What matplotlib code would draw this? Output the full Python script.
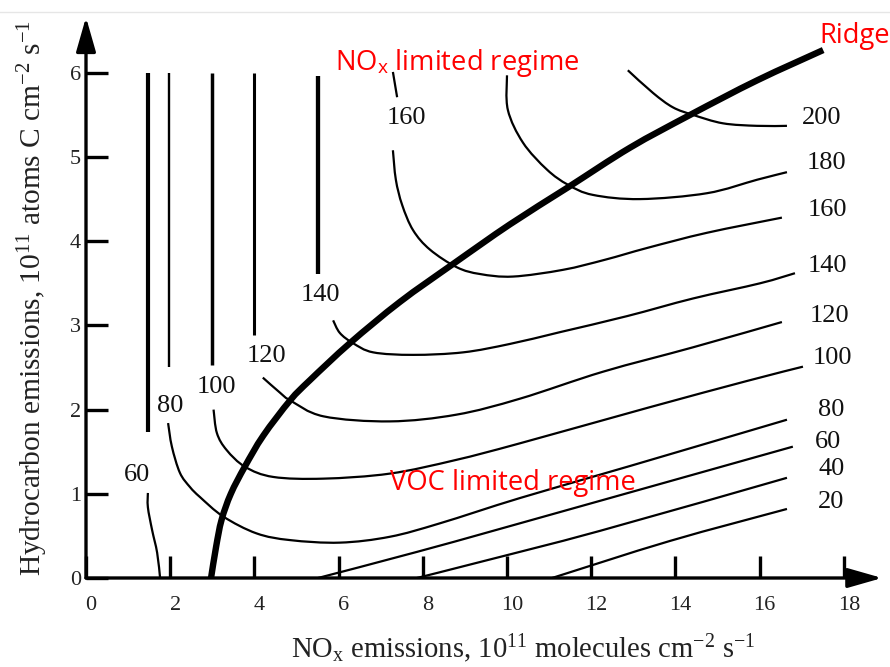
import matplotlib
matplotlib.use("Agg")
import matplotlib.pyplot as plt
from matplotlib.lines import Line2D
from matplotlib.path import Path
from matplotlib.patches import PathPatch
from matplotlib.transforms import ScaledTranslation

plt.rcParams["font.family"] = "Liberation Serif"
plt.rcParams["mathtext.fontset"] = "custom"
plt.rcParams["mathtext.rm"] = "Liberation Serif"
plt.rcParams["mathtext.it"] = "Liberation Serif:italic"

# ozone isopleths (ppb), x = NOx emissions, y = hydrocarbon emissions
ridge_x = [2.97, 3.09, 3.22, 3.44, 3.77, 4.21, 4.85, 5.32, 6.27, 7.46, 8.72, 10.07, 11.45, 12.92, 14.35, 15.94, 17.51]
ridge_y = [0.0, 0.37, 0.69, 1.00, 1.32, 1.69, 2.11, 2.35, 2.79, 3.28, 3.73, 4.20, 4.64, 5.11, 5.50, 5.91, 6.27]

o3_200_x = [12.87, 13.47, 13.94, 14.42, 15.13, 15.94, 16.65]
o3_200_y = [6.03, 5.76, 5.59, 5.50, 5.40, 5.37, 5.37]

o3_180_x = [10.00, 10.02, 10.38, 10.95, 11.45, 12.04, 13.16, 14.75, 15.94, 16.65]
o3_180_y = [5.97, 5.56, 5.17, 4.85, 4.67, 4.55, 4.50, 4.57, 4.73, 4.82]

o3_160_x = [7.29, 7.36, 7.51, 7.77, 8.17, 8.81, 9.36, 10.14, 11.33, 12.33, 13.33, 14.75, 16.53]
o3_160_y = [5.08, 4.73, 4.43, 4.13, 3.90, 3.69, 3.61, 3.58, 3.66, 3.78, 3.92, 4.10, 4.28]
o3_160_top_x = [7.29, 7.39]
o3_160_top_y = [6.01, 5.71]

o3_140_x = [5.87, 6.03, 6.34, 6.82, 7.77, 8.96, 10.07, 11.26, 12.85, 14.42, 16.01, 16.84]
o3_140_y = [3.06, 2.91, 2.79, 2.68, 2.65, 2.68, 2.78, 2.92, 3.11, 3.32, 3.50, 3.62]

o3_120_x = [4.20, 4.61, 4.85, 5.64, 7.22, 8.80, 10.31, 12.28, 14.42, 16.53]
o3_120_y = [2.38, 2.20, 2.11, 1.92, 1.86, 1.94, 2.13, 2.45, 2.74, 3.04]

o3_100_x = [3.03, 3.11, 3.34, 3.78, 4.45, 5.64, 7.22, 8.77, 10.31, 13.33, 15.70, 17.03]
o3_100_y = [2.00, 1.72, 1.52, 1.32, 1.20, 1.18, 1.24, 1.40, 1.60, 2.02, 2.34, 2.51]

o3_80_x = [1.95, 2.04, 2.23, 2.47, 2.71, 3.26, 4.05, 4.85, 6.03, 7.22, 8.41, 10.31, 12.92, 16.65]
o3_80_y = [1.84, 1.56, 1.25, 1.08, 0.96, 0.73, 0.53, 0.45, 0.42, 0.49, 0.65, 0.95, 1.33, 1.88]

o3_60_left_x = [1.47, 1.47, 1.57, 1.69, 1.76]
o3_60_left_y = [1.01, 0.84, 0.57, 0.30, 0.0]
o3_60_x = [5.51, 7.86, 10.31, 16.79]
o3_60_y = [0.0, 0.31, 0.65, 1.56]

o3_40_x = [7.86, 9.36, 12.21, 16.65]
o3_40_y = [0.0, 0.19, 0.56, 1.19]

o3_20_x = [11.07, 13.87, 16.65]
o3_20_y = [0.0, 0.44, 0.82]

# NOx-saturated upper-left branches (vertical)
vert_x = [1.47, 1.97, 2.99, 3.99, 5.51]
vert_top = [6.0, 6.0, 6.0, 6.0, 5.96]
vert_bottom = [1.73, 2.51, 2.53, 2.89, 3.61]
vert_lw = [3.0, 1.7, 2.5, 2.2, 3.1]

# contour labels
lab_text = ["60", "80", "100", "120", "140", "160",
            "200", "180", "160", "140", "120", "100", "80", "60", "40", "20"]
lab_x = [1.21, 2.00, 3.09, 4.28, 5.56, 7.60,
         17.48, 17.60, 17.62, 17.60, 17.67, 17.72, 17.70, 17.62, 17.70, 17.70]
lab_y = [1.22, 2.04, 2.27, 2.64, 3.36, 5.46,
         5.46, 4.93, 4.37, 3.71, 3.11, 2.61, 2.00, 1.62, 1.30, 0.90]


def smooth(xs, ys):
    """bezier through the read points (catmull-rom tangents)"""
    pts = list(zip(xs, ys))
    n = len(pts)
    verts = [pts[0]]
    codes = [Path.MOVETO]
    for i in range(n - 1):
        p0 = pts[i - 1] if i > 0 else pts[i]
        p1, p2 = pts[i], pts[i + 1]
        p3 = pts[i + 2] if i + 2 < n else pts[i + 1]
        c1 = (p1[0] + (p2[0] - p0[0]) / 6, p1[1] + (p2[1] - p0[1]) / 6)
        c2 = (p2[0] - (p3[0] - p1[0]) / 6, p2[1] - (p3[1] - p1[1]) / 6)
        verts += [c1, c2, p2]
        codes += [Path.CURVE4] * 3
    return Path(verts, codes)


fig = plt.figure(figsize=(8.9, 6.67), dpi=100)
ax = fig.add_axes([86 / 890, 89 / 667, 18.5 * 42.1 / 890, 6.5 * 84.2 / 667])
ax.set_xlim(0, 18.5)
ax.set_ylim(0, 6.5)
for s in ax.spines.values():
    s.set_visible(False)

fig.add_artist(Line2D([0, 1], [1 - 12 / 667] * 2, color="#e6e6e6", lw=1))

# axes with arrow heads
arrow = dict(arrowstyle="-|>,head_length=1.05,head_width=0.3", mutation_scale=20,
             lw=2.4, color="black", shrinkA=0, shrinkB=0)
ax.annotate("", xy=(18.91, 0), xytext=(0, 0), arrowprops=arrow, annotation_clip=False)
ax.annotate("", xy=(0, 6.66), xytext=(0, 0), arrowprops=arrow, annotation_clip=False)

ax.set_xticks(range(0, 19, 2))
ax.set_yticks(range(0, 7))
ax.tick_params(direction="in", length=15.5, width=2.4, color="black",
               labelsize=16, labelcolor="#222222")
ax.tick_params(axis="x", pad=13)
ax.tick_params(axis="y", pad=3.5)
for lbl in ax.get_xticklabels():
    lbl.set_transform(lbl.get_transform() + ScaledTranslation(0.05, 0, fig.dpi_scale_trans))

curves = [(o3_200_x, o3_200_y), (o3_180_x, o3_180_y), (o3_160_x, o3_160_y),
          (o3_160_top_x, o3_160_top_y), (o3_140_x, o3_140_y), (o3_120_x, o3_120_y),
          (o3_100_x, o3_100_y), (o3_80_x, o3_80_y), (o3_60_left_x, o3_60_left_y),
          (o3_60_x, o3_60_y), (o3_40_x, o3_40_y), (o3_20_x, o3_20_y)]
for cx, cy in curves:
    ax.add_patch(PathPatch(smooth(cx, cy), fill=False, edgecolor="black", lw=1.6,
                           capstyle="butt", clip_on=False))
ax.vlines(vert_x, vert_bottom, vert_top, colors="black", linewidths=vert_lw)
ax.add_patch(PathPatch(smooth(ridge_x, ridge_y), fill=False, edgecolor="black", lw=4.6,
                       capstyle="butt", clip_on=False))

for t, x, y in zip(lab_text, lab_x, lab_y):
    ax.text(x, y, t, fontsize=19, ha="center", va="center", color="#111111")

red = dict(color="#ff0000", fontfamily="Open Sans", fontsize=19.7, va="baseline", ha="left")
ax.text(5.91, 6.03, r"NO$_\mathregular{x}$ limited regime", **red)
ax.text(7.22, 1.045, "VOC limited regime", **red)
ax.text(17.43, 6.35, "Ridge", **red)

fig.text(523 / 890, 1 - 658 / 667,
         r"NO$_\mathregular{x}$ emissions, 10$^{11}$ molecules cm$^{-2}$ s$^{-1}$",
         ha="center", va="baseline", fontsize=20.6, color="#222222")
fig.text(41 / 890, 1 - 298 / 667,
         r"Hydrocarbon emissions, 10$^{11}$ atoms C cm$^{-2}$ s$^{-1}$",
         rotation=90, rotation_mode="anchor", ha="center", va="baseline",
         fontsize=21.2, color="#222222")

fig.savefig("out.png", dpi=100)
